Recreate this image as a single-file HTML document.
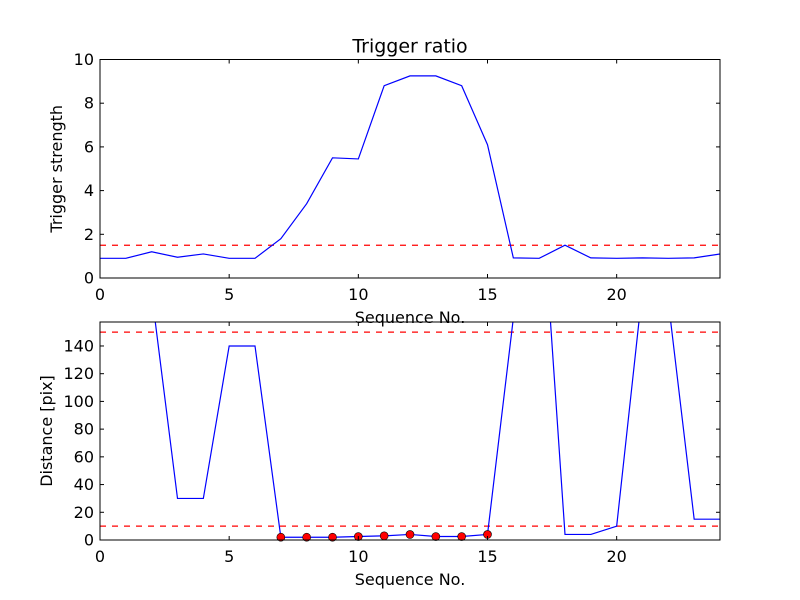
<!DOCTYPE html>
<html><head><meta charset="utf-8"><style>
body{margin:0;background:#fff;}
svg{display:block;font-family:"DejaVu Sans","Liberation Sans",sans-serif;}
</style></head><body>
<svg id="c" width="800" height="600" viewBox="0 0 800 600"></svg>
<script>
const seq = [0,1,2,3,4,5,6,7,8,9,10,11,12,13,14,15,16,17,18,19,20,21,22,23,24];
const strength = [0.9,0.9,1.2,0.95,1.1,0.9,0.9,1.8,3.4,5.5,5.45,8.8,9.25,9.25,8.8,6.1,0.92,0.9,1.5,0.92,0.9,0.92,0.9,0.92,1.1];
const strengthThreshold = 1.5;
const distance = [200,200,178,30,30,140,140,2,2,2,2.5,3,4,2.5,2.5,4,160,277,4,4,10,181,172,15,15];
const markedIdx = [7,8,9,10,11,12,13,14,15];
const distThresholds = [150,10];
const topTicksY = [0,2,4,6,8,10];
const botTicksY = [0,20,40,60,80,100,120,140];
const ticksX = [0,5,10,15,20];

const svg = document.getElementById('c');
const NS = 'http://www.w3.org/2000/svg';
function mk(tag, attrs, parent){const e=document.createElementNS(NS,tag);for(const k in attrs)e.setAttribute(k,attrs[k]);(parent||svg).appendChild(e);return e;}

function panel(name, y0, y1, ymin, ymax, xs, ys, yticks, ylabel, hlines, marks, title){
  const L=100,R=720;
  const sx=v=>L+(v-0)/(24-0)*(R-L);
  const sy=v=>y1-(v-ymin)/(ymax-ymin)*(y1-y0);
  const g=mk('g',{});
  
  
  const clipId='clip-'+name;
  const cp=mk('clipPath',{id:clipId},g);
  mk('rect',{x:L,y:y0,width:R-L,height:y1-y0},cp);
  const inner=mk('g',{'clip-path':'url(#'+clipId+')'},g);
  hlines.forEach(h=>{
    const l=mk('line',{x1:L,x2:R,y1:sy(h),y2:sy(h),stroke:'#ff0000','stroke-width':1.2,'stroke-dasharray':'6,6'},inner);
    
    
  });
  const pts=xs.map((x,i)=>sx(x)+','+sy(ys[i])).join(' ');
  const pl=mk('polyline',{points:pts,fill:'none',stroke:'#0000ff','stroke-width':1.2},inner);
  
  
  marks.forEach(i=>{
    const c=mk('circle',{cx:sx(xs[i]),cy:sy(ys[i]),r:4,fill:'#ff0000',stroke:'#000','stroke-width':0.6},g);
    
    
  });
  mk('rect',{x:L,y:y0,width:R-L,height:y1-y0,fill:'none',stroke:'#000','stroke-width':1},g);
  yticks.forEach(t=>{
    const y=sy(t);
    mk('line',{x1:L,x2:L+4,y1:y,y2:y,stroke:'#000'},g);
    mk('line',{x1:R-4,x2:R,y1:y,y2:y,stroke:'#000'},g);
    const tx=mk('text',{x:L-6,y:y+5.5,'text-anchor':'end','font-size':16},g);
    tx.textContent=t;
    
    
  });
  ticksX.forEach(t=>{
    const x=sx(t);
    mk('line',{x1:x,x2:x,y1:y1,y2:y1-4,stroke:'#000'},g);
    mk('line',{x1:x,x2:x,y1:y0,y2:y0+4,stroke:'#000'},g);
    const tx=mk('text',{x:x,y:y1+22,'text-anchor':'middle','font-size':16},g);
    tx.textContent=t;
    
    
  });
  const xl=mk('text',{x:410,y:y1+45,'text-anchor':'middle','font-size':16},g);
  xl.textContent='Sequence No.';
  
  
  const yc=(y0+y1)/2;
  const yl=mk('text',{x:0,y:0,'text-anchor':'middle','font-size':16,transform:'translate('+(name==='top-panel'?62:52)+','+yc+') rotate(-90)'},g);
  yl.textContent=ylabel;
  
  
  if(title){
    const tt=mk('text',{x:410,y:y0-7,'text-anchor':'middle','font-size':19},g);
    tt.textContent=title;
    
    
  }
}
panel('top-panel',59.5,278,0,10,seq,strength,topTicksY,'Trigger strength',[strengthThreshold],[],'Trigger ratio');
panel('bottom-panel',322,540,0,157.3,seq,distance,botTicksY,'Distance [pix]',distThresholds,markedIdx,null);
</script>
</body></html>
